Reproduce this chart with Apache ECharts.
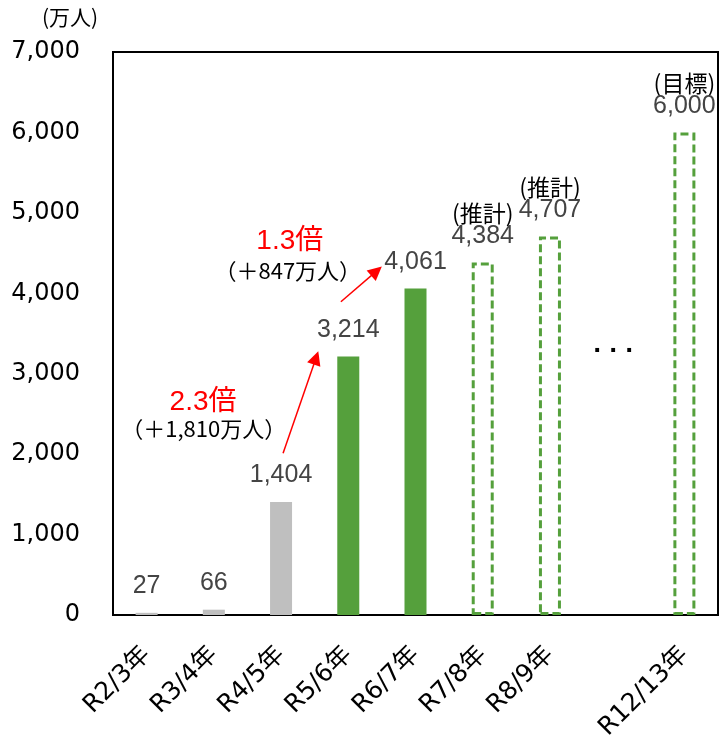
<!DOCTYPE html>
<html>
<head>
<meta charset="utf-8">
<script src="https://cdn.jsdelivr.net/npm/echarts@6/dist/echarts.min.js"></script>
<style>
html,body{margin:0;padding:0;background:#fff;}
#chart{width:720px;height:743px;}
</style>
</head>
<body>
<div id="chart"></div>
<script>
const categories = ['R2/3年','R3/4年','R4/5年','R5/6年','R6/7年','R7/8年','R8/9年','','R12/13年'];
const values     = [27, 66, 1404, 3214, 4061, 4384, 4707, null, 6000];
const kinds      = ['past','past','past','actual','actual','estimate','estimate',null,'target'];
const kindNotes  = {estimate: '(推計)', target: '(目標)'};
const yMin = 0, yMax = 7000, yInterval = 1000;
const unitLabel = '(万人)';

// growth annotations (x in category-index units, y in 万人)
const arrowFrom  = [[2.03, 2010], [2.89, 3895]];
const arrowTo    = [[2.52, 3196], [3.42, 4275]];
const ratioTexts = ['2.3倍', '1.3倍'];
const ratioAt    = [[0.84, 2642], [2.13, 4641]];
const diffTexts  = ['（＋1,810万人）', '（＋847万人）'];
const diffAt     = [[0.85, 2313], [2.10, 4277]];
const ellipsisAt = [6.94, 3345];

const fmt = v => Number(v).toLocaleString('en-US');
const GREEN = '#55A03C';
const numFont = 'Liberation Sans, Arial, Noto Sans CJK JP';
const axisFont = 'DejaVu Sans, Verdana, Noto Sans CJK JP';
const cjkFont = 'Noto Sans CJK JP';

const styleFor = {
  past:     {color: '#BFBFBF'},
  actual:   {color: GREEN},
  estimate: {color: 'rgba(0,0,0,0)', borderColor: GREEN, borderWidth: 3, borderType: [8, 4]},
  target:   {color: 'rgba(0,0,0,0)', borderColor: GREEN, borderWidth: 3, borderType: [8, 4]}
};

const barData = values.map((v, i) => {
  if (v == null) return null;
  const k = kinds[i];
  const note = kindNotes[k];
  return {
    value: v,
    itemStyle: styleFor[k],
    label: note
      ? {formatter: `{a|${note}}\n{b|${fmt(v)}}`}
      : {formatter: fmt(v)}
  };
});

const chart = echarts.init(document.getElementById('chart'), null, {renderer:'canvas'});

const markPts = [];
ratioTexts.forEach((t, i) => markPts.push({
  coord: ratioAt[i], symbolSize: 0,
  label: {show:true, position:'inside', formatter: t, color:'#FF0000', fontSize: 28, fontFamily: numFont}
}));
diffTexts.forEach((t, i) => markPts.push({
  coord: diffAt[i], symbolSize: 0,
  label: {show:true, position:'inside', formatter: t, color:'#000', fontSize: 22, fontFamily: cjkFont}
}));
markPts.push({
  coord: ellipsisAt, symbolSize: 0,
  label: {show:true, position:'inside', formatter: '. . .', color:'#000', fontSize: 22, fontWeight:'bold', fontFamily: 'DejaVu Sans'}
});

const option = {
  animation: false,
  backgroundColor: '#fff',
  grid: {left: 113, right: 2, top: 52, bottom: 128, show: true, borderColor: '#000', borderWidth: 2, backgroundColor: 'transparent'},
  graphic: [{
    type: 'text', left: 42, top: 7,
    style: {text: unitLabel, fontSize: 21, fontFamily: cjkFont, fill: '#000'}
  }],
  xAxis: [{
    type: 'category', data: categories,
    axisLine: {show: false}, axisTick: {show: false},
    axisLabel: {interval: 0, rotate: 45, margin: 36, fontSize: 25, fontFamily: axisFont, color: '#000'}
  }, {
    type: 'value', min: -0.5, max: 8.5, show: false
  }],
  yAxis: {
    type: 'value', min: yMin, max: yMax, interval: yInterval,
    axisLine: {show: false}, axisTick: {show: false}, splitLine: {show: false},
    axisLabel: {margin: 33, fontSize: 24, fontFamily: axisFont, color: '#000', formatter: v => fmt(v)}
  },
  series: [{
    type: 'bar', data: barData, barWidth: 22,
    label: {
      show: true, position: 'top', distance: 14,
      fontFamily: numFont, fontSize: 25, color: '#444',
      rich: {
        a: {fontFamily: cjkFont, fontSize: 23, color: '#000', lineHeight: 21, align: 'center'},
        b: {fontFamily: numFont, fontSize: 25, color: '#444', lineHeight: 25, align: 'center'}
      }
    }
  }, {
    type: 'line', xAxisIndex: 1, data: [], silent: true,
    markLine: {
      silent: true, symbol: ['none', 'triangle'], symbolSize: 14,
      lineStyle: {color: '#FF0000', width: 1.5, type: 'solid'},
      itemStyle: {color: '#FF0000'},
      label: {show: false},
      data: arrowFrom.map((f, i) => [{coord: f}, {coord: arrowTo[i]}])
    },
    markPoint: {silent: true, symbol: 'circle', data: markPts}
  }]
};
chart.setOption(option);
</script>
</body>
</html>
